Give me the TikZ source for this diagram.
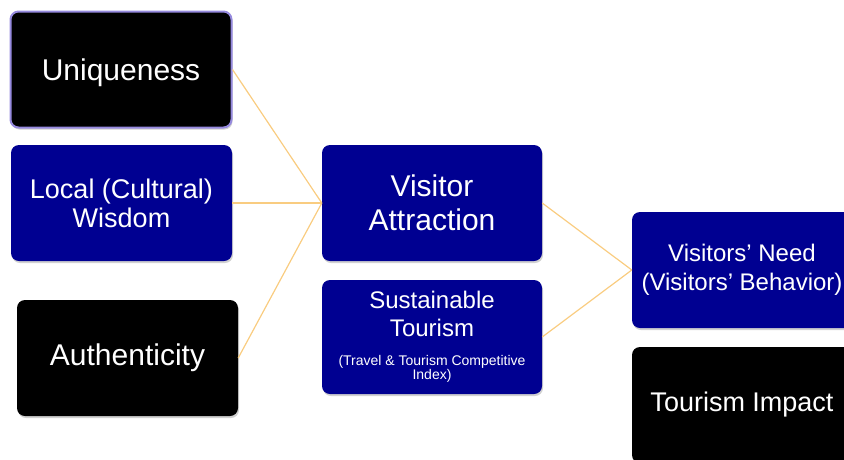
\documentclass[tikz,border=0pt]{standalone}
\usepackage{fontspec}
\setmainfont{Liberation Sans}
\usetikzlibrary{shadows}
\definecolor{boxblue}{RGB}{0,0,145}
\definecolor{linkline}{RGB}{249,204,128}
\definecolor{boxedge}{RGB}{150,138,222}
\tikzset{
	box/.style={rounded corners=8pt, minimum width=220pt, minimum height=116pt, inner sep=0pt,
		text=white, align=center,
		drop shadow={shadow xshift=1pt, shadow yshift=-2pt, opacity=0.3, fill=black!60}},
	bluebox/.style={box, fill=boxblue},
	blackbox/.style={box, fill=black},
	link/.style={draw=linkline, line width=1.2pt},
	big/.style={font=\fontsize{30}{34}\selectfont},
	mid/.style={font=\fontsize{27}{29}\selectfont},
	small/.style={font=\fontsize{24}{28.5}\selectfont},
}

\begin{document}
\begin{tikzpicture}[x=1pt, y=-1pt]
			%%%%% START %%%%%
			\clip (0, 0) rectangle (844, 459);
			
			% left column
			\node[blackbox, big, draw=boxedge, line width=2pt, minimum width=221pt, text depth=0pt] (uniq) at (121, 69.5) {Uniqueness};
			\node[bluebox, mid, minimum width=221pt] (wisdom) at (121.5, 203) {Local (Cultural)\\Wisdom};
			\node[blackbox, big, minimum width=221pt] (auth) at (127.5, 358) {Authenticity};
			
			% middle column
			\node[bluebox, big] (attr) at (432, 203) {Visitor\\Attraction};
			\node[bluebox, minimum height=114pt] (sust) at (432, 337) {};
			\node[small, text=white, align=center] (sust title) at (432, 314) {Sustainable\\Tourism};
			\node[text=white, align=center, font=\fontsize{14}{13.5}\selectfont] (sust note) at (432, 369) {(Travel \& Tourism Competitive\\Index)};
			
			% right column
			\node[bluebox, small] (need) at (742, 270) {Visitors’ Need\\(Visitors’ Behavior)};
			\node[blackbox, mid] (impact) at (742, 405) {Tourism Impact};
			
			% links
			\draw[link] (uniq.east) -- (attr.west);
			\draw[link] (wisdom.east) -- (attr.west);
			\draw[link] (auth.east) -- (attr.west);
			\draw[link] (attr.east) -- (need.west);
			\draw[link] (sust.east) -- (need.west);
			%%%%% END %%%%%
		\end{tikzpicture}
\end{document}
